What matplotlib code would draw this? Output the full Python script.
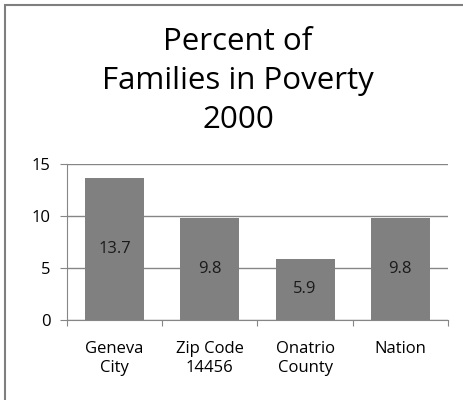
import matplotlib.pyplot as plt
from matplotlib.patches import Rectangle

categories = ['Geneva\nCity', 'Zip Code\n14456', 'Onatrio\nCounty', 'Nation']
values = [13.7, 9.8, 5.9, 9.8]
yticks = [0, 5, 10, 15]

plt.rcParams['font.family'] = ['Open Sans', 'DejaVu Sans']

fig = plt.figure(figsize=(4.64, 4.0), dpi=100)
fig.patches.append(Rectangle((5 / 464, -0.01), 1.02, 1 - 5 / 400 + 0.01,
                             transform=fig.transFigure, fill=False,
                             edgecolor='#7f7f7f', linewidth=1.5))

ax = fig.add_axes([67 / 464, 80 / 400, 381 / 464, 156 / 400])
xs = range(len(values))
ax.bar(xs, values, width=0.62, color='#808080', zorder=3)
for x, v in zip(xs, values):
    ax.text(x, v / 2, f'{v}', ha='center', va='center', fontsize=12,
            color='#1a1a1a', zorder=4)

ax.set_xlim(-0.5, len(values) - 0.5)
ax.set_ylim(0, 15)
ax.set_yticks(yticks)
ax.tick_params(axis='y', length=5, color='#868686', labelsize=12, pad=7)
ax.yaxis.grid(True, color='#868686', linewidth=1)

# category boundaries get the tick marks, names sit between them
ax.set_xticks([i - 0.5 for i in range(len(values) + 1)])
ax.set_xticklabels([])
ax.set_xticks(list(xs), minor=True)
ax.set_xticklabels(categories, minor=True, fontsize=12, linespacing=1.25)
ax.tick_params(axis='x', which='major', length=4, color='#868686')
ax.tick_params(axis='x', which='minor', length=0, pad=15)

for side in ('top', 'right'):
    ax.spines[side].set_visible(False)
for side in ('left', 'bottom'):
    ax.spines[side].set_color('#868686')

fig.text(238 / 464, 1 - 81 / 400, 'Percent of\nFamilies in Poverty\n2000',
         ha='center', va='center', fontsize=22.5, linespacing=1.4)

fig.savefig('out.png', dpi=100)
